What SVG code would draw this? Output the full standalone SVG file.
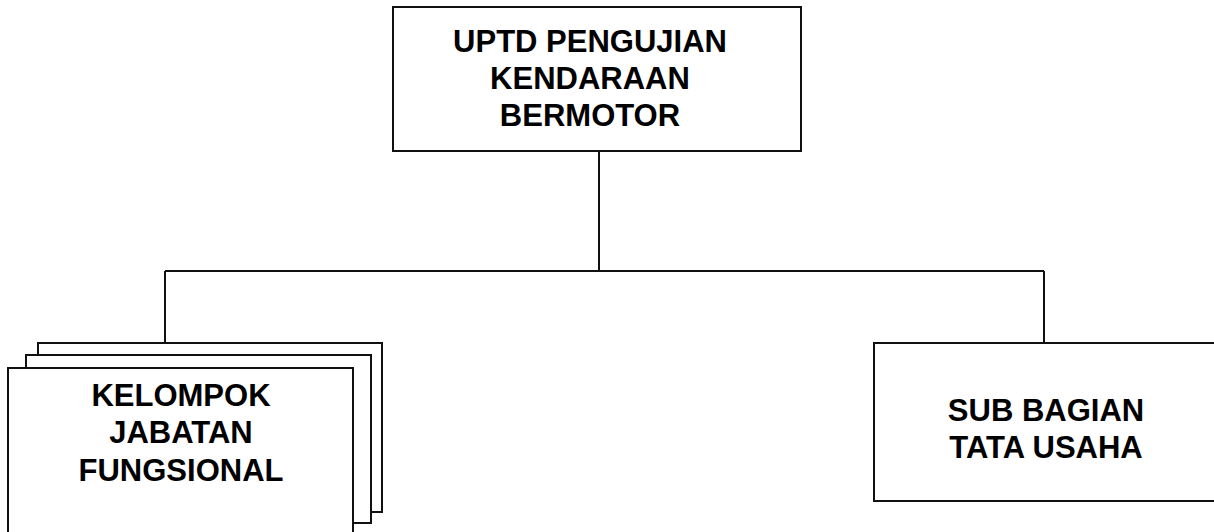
<svg xmlns="http://www.w3.org/2000/svg" width="1214" height="532" viewBox="0 0 1214 532">
<style>
.box{fill:#fff;stroke:#111;stroke-width:2}
.ln{fill:none;stroke:#111;stroke-width:2}
.t{font-family:"Liberation Sans",Arial,sans-serif;font-weight:bold;font-size:31px;fill:#000;text-anchor:middle}
</style>
<rect width="1214" height="532" fill="#fff"/>
<g id="connectors">
<path class="ln" d="M599 151V271M165 271H1044M165 271V343M1044 271V343"/>
</g>
<g id="top">
<rect class="box" x="393" y="7" width="408" height="144"/>
<text class="t" x="590" y="52">UPTD PENGUJIAN</text>
<text class="t" x="590" y="89">KENDARAAN</text>
<text class="t" x="590" y="126">BERMOTOR</text>
</g>
<g id="kelompok">
<rect class="box" x="38" y="343" width="344" height="169"/>
<rect class="box" x="26" y="355" width="345" height="168"/>
<rect class="box" x="8" y="368" width="345" height="170"/>
<text class="t" x="181" y="406">KELOMPOK</text>
<text class="t" x="181" y="443">JABATAN</text>
<text class="t" x="181" y="481">FUNGSIONAL</text>
</g>
<g id="subbagian">
<rect class="box" x="874" y="343" width="345" height="158"/>
<text class="t" x="1046" y="421">SUB BAGIAN</text>
<text class="t" x="1046" y="458">TATA USAHA</text>
</g>
</svg>
